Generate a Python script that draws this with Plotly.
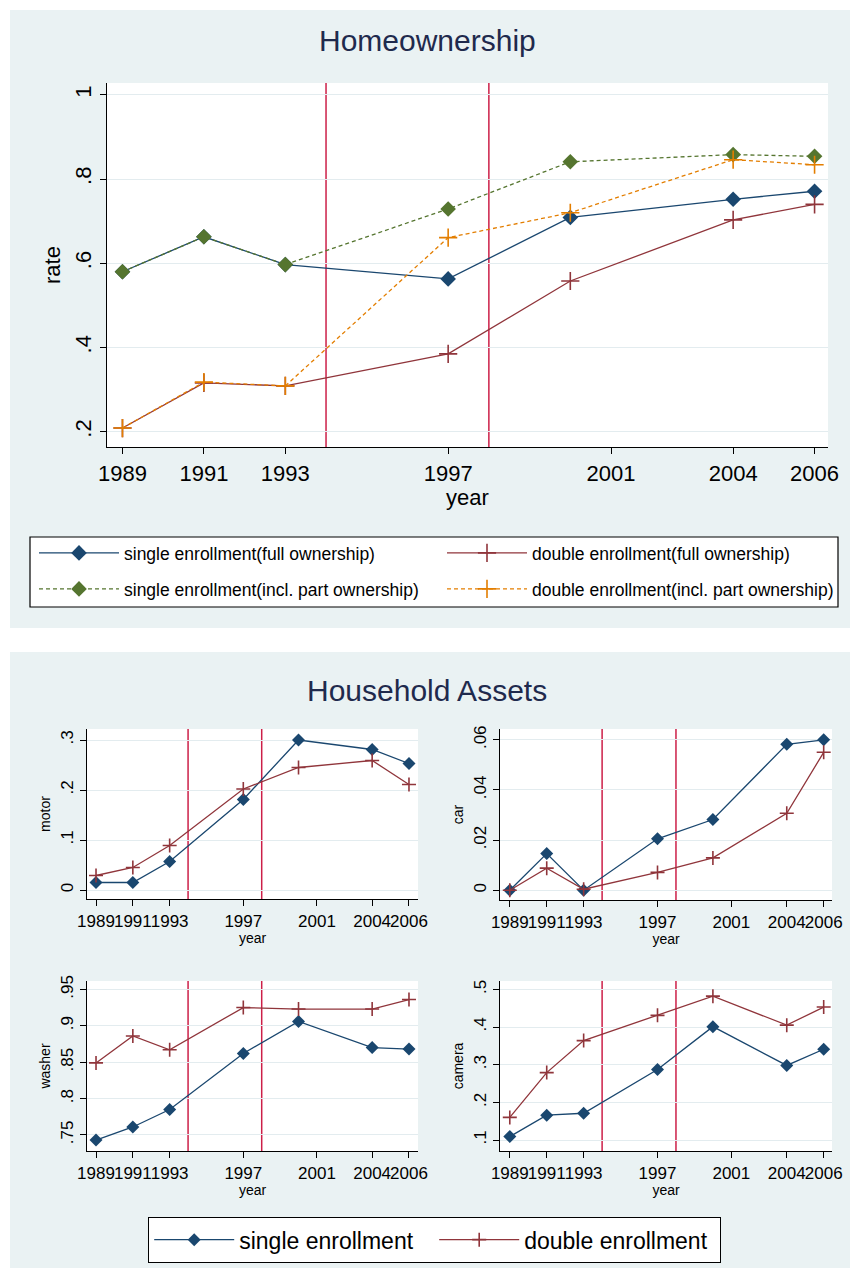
import plotly.graph_objects as go

# ---------------- data ----------------
years = [1989, 1991, 1993, 1997, 2000, 2004, 2006]
year_ticks = [1989, 1991, 1993, 1997, 2001, 2004, 2006]
policy_years = [1994, 1998]

home_single_full = [0.580, 0.663, 0.597, 0.563, 0.709, 0.752, 0.771]
home_double_full = [0.209, 0.316, 0.309, 0.385, 0.558, 0.703, 0.740]
home_single_part = [0.580, 0.663, 0.597, 0.729, 0.841, 0.858, 0.854]
home_double_part = [0.209, 0.318, 0.309, 0.661, 0.720, 0.846, 0.834]

motor_single = [0.015, 0.015, 0.057, 0.181, 0.300, 0.281, 0.253]
motor_double = [0.029, 0.045, 0.089, 0.202, 0.245, 0.259, 0.211]
car_single = [0.0, 0.0146, 0.0, 0.0205, 0.0282, 0.0582, 0.0600]
car_double = [0.0, 0.0088, 0.0004, 0.0071, 0.0129, 0.0307, 0.0550]
washer_single = [0.743, 0.761, 0.785, 0.862, 0.906, 0.870, 0.868]
washer_double = [0.849, 0.886, 0.867, 0.925, 0.923, 0.923, 0.936]
camera_single = [0.109, 0.166, 0.171, 0.287, 0.401, 0.298, 0.341]
camera_double = [0.160, 0.279, 0.364, 0.431, 0.482, 0.405, 0.453]

top_ticks = [0.2, 0.4, 0.6, 0.8, 1.0]
top_ticklabels = [".2", ".4", ".6", ".8", "1"]
motor_ticks = [0, 0.1, 0.2, 0.3]
motor_ticklabels = ["0", ".1", ".2", ".3"]
car_ticks = [0, 0.02, 0.04, 0.06]
car_ticklabels = ["0", ".02", ".04", ".06"]
washer_ticks = [0.75, 0.8, 0.85, 0.9, 0.95]
washer_ticklabels = [".75", ".8", ".85", ".9", ".95"]
camera_ticks = [0.1, 0.2, 0.3, 0.4, 0.5]
camera_ticklabels = [".1", ".2", ".3", ".4", ".5"]

# ---------------- styles ----------------
W, H = 854, 1275
NAVY = "#1A476F"
MAROON = "#90353B"
GREEN = "#55752F"
ORANGE = "#E37E00"
VRED = "#CC1F48"
PANEL = "#EAF2F3"
TITLE = "#1F2A4D"
GRID = "#E3ECEF"
FONT = "Liberation Sans, Arial, sans-serif"


def px(x):
    return x / W


def py(y):
    return 1 - y / H


fig = go.Figure()


def add_pair(xa, ya, s_vals, d_vals, s_name, d_name, show, s_leg, d_leg, msize_d, msize_p,
             dash=None, s_col=NAVY, d_col=MAROON):
    fig.add_trace(go.Scatter(
        x=years, y=s_vals, mode="lines+markers", name=s_name,
        xaxis=xa, yaxis=ya, showlegend=show, legend=s_leg,
        line=dict(color=s_col, width=1.3, dash=dash),
        marker=dict(symbol="diamond", size=msize_d, color=s_col),
    ))
    fig.add_trace(go.Scatter(
        x=years, y=d_vals, mode="lines+markers", name=d_name,
        xaxis=xa, yaxis=ya, showlegend=show, legend=d_leg,
        line=dict(color=d_col, width=1.3, dash=dash),
        marker=dict(symbol="cross-thin", size=msize_p, color=d_col,
                    line=dict(color=d_col, width=1.6)),
    ))


# top panel
add_pair("x", "y", home_single_full, home_double_full,
         "single enrollment(full ownership)", "double enrollment(full ownership)",
         True, "legend", "legend4", 12, 13)
add_pair("x", "y", home_single_part, home_double_part,
         "single enrollment(incl. part ownership)", "double enrollment(incl. part ownership)",
         True, "legend3", "legend5", 12, 13, dash="4px,3px", s_col=GREEN, d_col=ORANGE)

# bottom panels
add_pair("x2", "y2", motor_single, motor_double, "single enrollment", "double enrollment",
         True, "legend2", "legend2", 10, 10)
add_pair("x3", "y3", car_single, car_double, "single enrollment", "double enrollment",
         False, "legend2", "legend2", 10, 10)
add_pair("x4", "y4", washer_single, washer_double, "single enrollment", "double enrollment",
         False, "legend2", "legend2", 10, 10)
add_pair("x5", "y5", camera_single, camera_double, "single enrollment", "double enrollment",
         False, "legend2", "legend2", 10, 10)

# axes geometry (pixel boxes)
boxes = {
    1: (107, 828, 83, 447, [1988.62, 2006.33], [0.164, 1.028], top_ticks, top_ticklabels, "rate", 22, 22),
    2: (87, 418, 729, 899, [1988.51, 2006.49], [-0.018, 0.322], motor_ticks, motor_ticklabels, "motor", 17, 14),
    3: (500, 832, 729, 900, [1988.47, 2006.45], [-0.0039, 0.0643], car_ticks, car_ticklabels, "car", 17, 14),
    4: (87, 418, 981, 1151, [1988.51, 2006.49], [0.728, 0.9615], washer_ticks, washer_ticklabels, "washer", 17, 14),
    5: (500, 832, 981, 1151, [1988.47, 2006.45], [0.0708, 0.5222], camera_ticks, camera_ticklabels, "camera", 17, 14),
}

layout = {}
shapes = []
for i, (x0, x1, y0, y1, xr, yr, yt, ytl, ytitle, tfs, afs) in boxes.items():
    sx = "" if i == 1 else str(i)
    layout["xaxis" + sx] = dict(
        domain=[px(x0), px(x1)], range=xr, anchor="y" + sx,
        tickmode="array", tickvals=year_ticks, ticktext=[str(t) for t in year_ticks],
        tickangle=0, ticks="outside", ticklen=6, tickcolor="black",
        showline=True, linecolor="black", linewidth=1.2, showgrid=False,
        zeroline=False, automargin=False,
        tickfont=dict(family=FONT, size=tfs, color="black"),
        title=dict(text="year", font=dict(family=FONT, size=afs, color="black"), standoff=0),
    )
    layout["yaxis" + sx] = dict(
        domain=[py(y1), py(y0)], range=yr, anchor="x" + sx,
        tickmode="array", tickvals=yt, ticktext=ytl, tickangle=-90,
        ticks="outside", ticklen=6, tickcolor="black",
        showline=True, linecolor="black", linewidth=1.2,
        showgrid=True, gridcolor=GRID, gridwidth=1,
        zeroline=False, automargin=False,
        tickfont=dict(family=FONT, size=tfs, color="black"),
        title=dict(text=ytitle, font=dict(family=FONT, size=afs, color="black"), standoff=4),
    )
    for yrp in policy_years:
        shapes.append(dict(type="line", xref="x" + sx, yref="y" + sx + " domain",
                           x0=yrp, x1=yrp, y0=0, y1=1,
                           line=dict(color=VRED, width=1.5), layer="below"))

# white gaps around / between the two grey-blue panels
for (a, b, c, d) in [(0, 854, 0, 10), (0, 854, 628, 652), (0, 854, 1268, 1275),
                     (0, 10, 0, 1275), (850, 854, 0, 1275)]:
    shapes.append(dict(type="rect", xref="paper", yref="paper",
                       x0=px(a), x1=px(b), y0=py(d), y1=py(c),
                       fillcolor="white", line=dict(width=0), layer="below"))
# top legend box
shapes.append(dict(type="rect", xref="paper", yref="paper",
                   x0=px(30), x1=px(838), y0=py(607), y1=py(537),
                   fillcolor="white", line=dict(color="black", width=1.2), layer="below"))

legend_common = dict(orientation="h", bgcolor="rgba(0,0,0,0)", borderwidth=0,
                     xanchor="left", yanchor="middle", itemwidth=80,
                     font=dict(family=FONT, size=17.5, color="black"), itemclick=False)

fig.update_layout(
    width=W, height=H,
    margin=dict(l=0, r=0, t=0, b=0),
    paper_bgcolor=PANEL, plot_bgcolor="white",
    font=dict(family=FONT, color="black"),
    shapes=shapes,
    legend=dict(x=px(34), y=py(553), **legend_common),
    legend4=dict(x=px(442), y=py(553), **legend_common),
    legend3=dict(x=px(34), y=py(589), **legend_common),
    legend5=dict(x=px(442), y=py(589), **legend_common),
    legend2=dict(orientation="h", x=px(148), y=py(1240), xanchor="left", yanchor="middle",
                 bgcolor="white", bordercolor="black", borderwidth=1.2, itemwidth=80,
                 entrywidth=190, entrywidthmode="pixels", itemclick=False,
                 font=dict(family=FONT, size=23, color="black")),
    annotations=[
        dict(text="Homeownership", x=0.5, y=py(41), xref="paper", yref="paper",
             showarrow=False, font=dict(family=FONT, size=30, color=TITLE),
             xanchor="center", yanchor="middle"),
        dict(text="Household Assets", x=0.5, y=py(690), xref="paper", yref="paper",
             showarrow=False, font=dict(family=FONT, size=30, color=TITLE),
             xanchor="center", yanchor="middle"),
    ],
    **layout,
)

fig.write_html("out.html", config={"displayModeBar": False},
               post_script="document.body.style.margin='0';")
